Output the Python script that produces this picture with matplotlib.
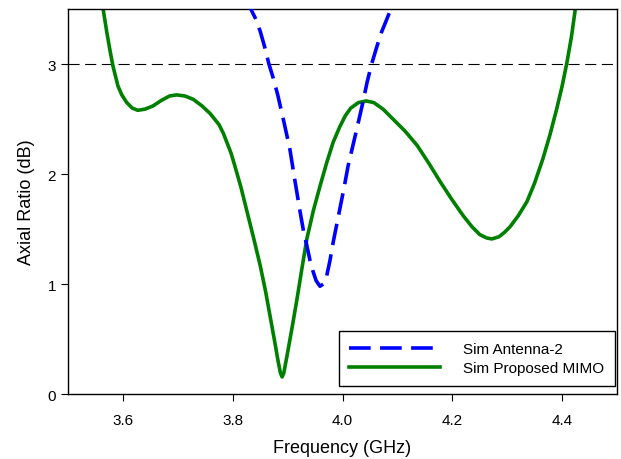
import matplotlib
matplotlib.use("Agg")
import matplotlib.pyplot as plt

plt.rcParams['font.family'] = ['Liberation Sans', 'DejaVu Sans']

# Sim Proposed MIMO (green)
mimo_f = [3.555, 3.564, 3.571, 3.577, 3.582, 3.587, 3.591, 3.598, 3.607, 3.617,
          3.627, 3.640, 3.655, 3.670, 3.685, 3.698, 3.713, 3.728, 3.744, 3.759,
          3.767, 3.775, 3.783, 3.790, 3.797, 3.803, 3.815, 3.826, 3.838, 3.850,
          3.860, 3.868, 3.876, 3.883, 3.887, 3.890, 3.893, 3.899, 3.908, 3.917,
          3.926, 3.935, 3.947, 3.959, 3.971, 3.983, 3.995, 4.005, 4.015, 4.029,
          4.043, 4.057, 4.074, 4.092, 4.114, 4.136, 4.157, 4.178, 4.199, 4.220,
          4.236, 4.250, 4.262, 4.272, 4.285, 4.295, 4.305, 4.320, 4.336, 4.350,
          4.365, 4.378, 4.390, 4.400, 4.409, 4.417, 4.424, 4.432]
mimo_ar = [3.85, 3.50, 3.28, 3.11, 2.98, 2.88, 2.80, 2.72, 2.65, 2.60,
           2.58, 2.59, 2.62, 2.67, 2.71, 2.72, 2.71, 2.68, 2.62, 2.55,
           2.50, 2.45, 2.37, 2.28, 2.19, 2.09, 1.88, 1.66, 1.42, 1.17,
           0.93, 0.71, 0.49, 0.29, 0.19, 0.155, 0.19, 0.35, 0.60, 0.86,
           1.14, 1.41, 1.67, 1.89, 2.10, 2.29, 2.43, 2.53, 2.60, 2.65,
           2.665, 2.65, 2.59, 2.50, 2.39, 2.26, 2.10, 1.93, 1.77, 1.62,
           1.52, 1.45, 1.42, 1.41, 1.43, 1.47, 1.52, 1.62, 1.75, 1.92,
           2.14, 2.36, 2.59, 2.80, 3.02, 3.25, 3.50, 3.80]

# Sim Antenna-2 (blue dashed)
ant_f = [3.825, 3.833, 3.842, 3.850, 3.858, 3.866, 3.874, 3.882, 3.893, 3.904,
         3.913, 3.923, 3.929, 3.935, 3.941, 3.946, 3.952, 3.959, 3.965, 3.971,
         3.977, 3.983, 3.989, 3.995, 4.003, 4.010, 4.018, 4.026, 4.032, 4.037,
         4.045, 4.053, 4.062, 4.071, 4.080, 4.088, 4.096]
ant_ar = [3.62, 3.50, 3.41, 3.30, 3.16, 3.00, 2.87, 2.72, 2.48, 2.23,
          1.95, 1.65, 1.48, 1.35, 1.21, 1.12, 1.03, 0.98, 1.00, 1.07,
          1.21, 1.38, 1.53, 1.68, 1.88, 2.07, 2.24, 2.41, 2.54, 2.65,
          2.84, 3.00, 3.15, 3.29, 3.40, 3.50, 3.60]

xticks = [3.6, 3.8, 4.0, 4.2, 4.4]
yticks = [0, 1, 2, 3]
threshold = 3.0

fig = plt.figure(figsize=(6.21, 4.60), dpi=100)
ax = fig.add_axes([0.1095, 0.1413, 0.8841, 0.8367])

ax.axhline(threshold, color='black', lw=0.8, ls=(0, (10, 5)), zorder=1)
ax.plot(ant_f, ant_ar, color='#0000FF', lw=2.6, ls=(0, (6, 2.6)),
        label='Sim Antenna-2', zorder=3, dash_capstyle='butt')
ax.plot(mimo_f, mimo_ar, color='#008000', lw=2.6, solid_joinstyle='round',
        label='Sim Proposed MIMO', zorder=2)

ax.set_xlim(3.5, 4.5)
ax.set_ylim(0, 3.5)
ax.set_xticks(xticks)
ax.set_xticklabels([f"{t:.1f}" for t in xticks])
ax.set_yticks(yticks)
ax.tick_params(direction='out', length=5, labelsize=11, top=False, right=False)
ax.tick_params(axis='x', pad=9)
ax.set_xlabel('Frequency (GHz)', fontsize=13, labelpad=8)
ax.set_ylabel('Axial Ratio (dB)', fontsize=13, labelpad=9)
for s in ax.spines.values():
    s.set_linewidth(1.0)

leg = ax.legend(loc='lower right', bbox_to_anchor=(0.9964, 0.0208),
                fontsize=11, handlelength=5.95,
                fancybox=False, edgecolor='black', framealpha=1,
                borderaxespad=0, handletextpad=1.5, labelspacing=0.35,
                borderpad=0.7)
leg.get_frame().set_linewidth(1.0)

fig.savefig('out.png', dpi=100)
